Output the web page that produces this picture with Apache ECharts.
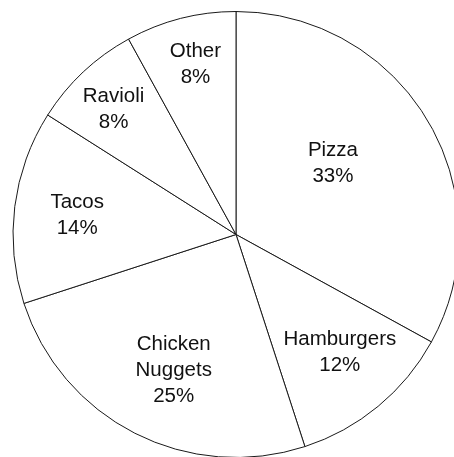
<!DOCTYPE html>
<html>
<head>
<meta charset="utf-8">
<script src="https://cdn.jsdelivr.net/npm/echarts@6/dist/echarts.min.js"></script>
<style>
  html, body { margin: 0; padding: 0; background: #fff; }
  #chart { width: 454px; height: 457px; }
</style>
</head>
<body>
<div id="chart"></div>
<script>
// Favourite foods, share of responses (percent), clockwise from 12 o'clock
const categories = ['Pizza', 'Hamburgers', 'Chicken Nuggets', 'Tacos', 'Ravioli', 'Other'];
const percents = [33, 12, 25, 14, 8, 8];

// Label placement inside each slice: distance from the centre (px) and a small angular nudge (deg)
const labelRadius = [120, 157, 149, 160, 175, 175];
const labelAngleNudge = [-5.5, -1.8, -2.3, -0.3, -1.2, 1];

const CX = 236, CY = 234.5, R = 223;

// Mid-angle of every slice, in degrees clockwise from 12 o'clock
const total = percents.reduce((a, b) => a + b, 0);
const midAngles = [];
let acc = 0;
percents.forEach(v => {
  midAngles.push((acc + v / 2) / total * 360);
  acc += v;
});

const chart = echarts.init(document.getElementById('chart'), null, { renderer: 'canvas' });

chart.setOption({
  backgroundColor: '#ffffff',
  animation: false,
  series: [{
    type: 'pie',
    center: [CX, CY],
    radius: [0, R],
    startAngle: 90,
    clockwise: true,
    avoidLabelOverlap: false,
    silent: true,
    itemStyle: { color: '#ffffff', borderColor: '#1a1a1a', borderWidth: 1 },
    emphasis: { disabled: true },
    labelLine: { show: false },
    label: {
      show: true,
      position: 'inside',
      color: '#111111',
      fontFamily: '"Liberation Sans", Arial, Helvetica, sans-serif',
      fontSize: 20.5,
      lineHeight: 26,
      align: 'center',
      formatter: p => p.name.replace(' ', '\n') + '\n' + p.value + '%'
    },
    labelLayout: params => {
      const i = params.dataIndex;
      const a = (midAngles[i] + labelAngleNudge[i]) * Math.PI / 180;
      return {
        x: CX + labelRadius[i] * Math.sin(a),
        y: CY - labelRadius[i] * Math.cos(a),
        align: 'center',
        verticalAlign: 'middle'
      };
    },
    data: categories.map((name, i) => ({ name: name, value: percents[i] }))
  }]
});
</script>
</body>
</html>
